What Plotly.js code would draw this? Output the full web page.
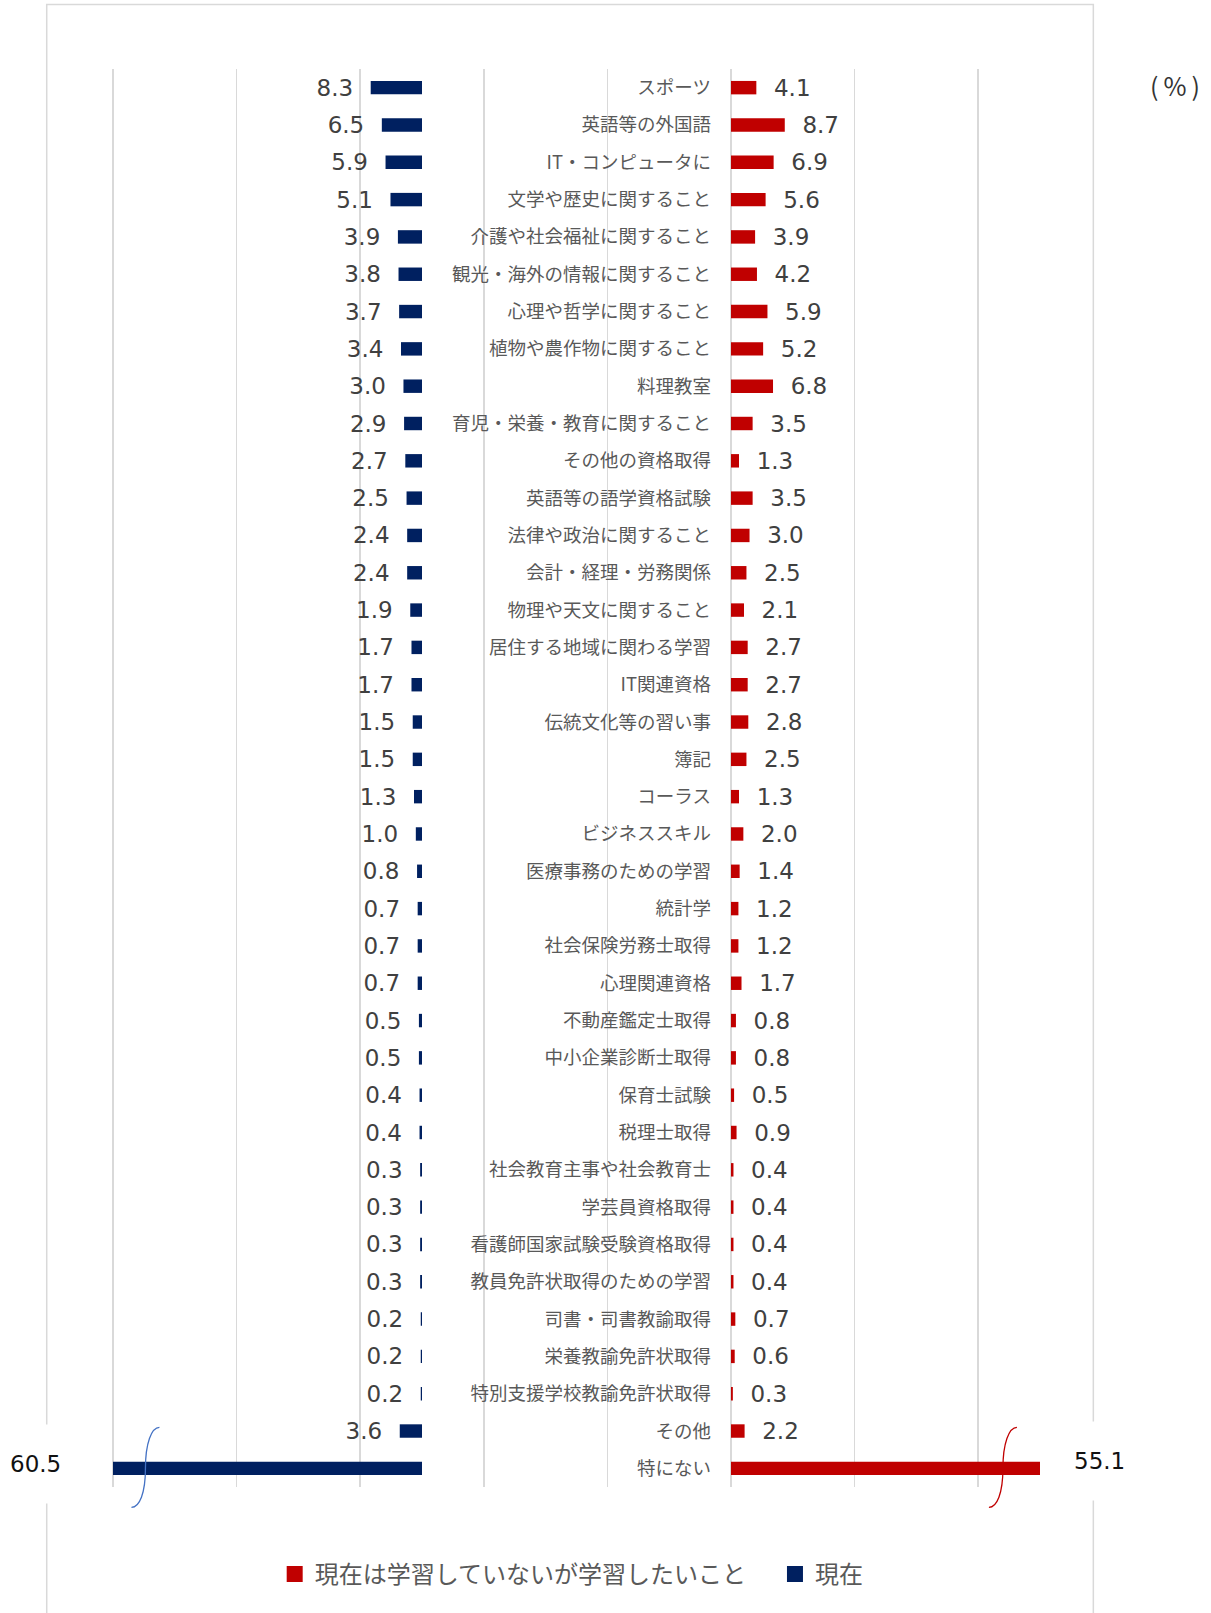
<!DOCTYPE html>
<html><head><meta charset="utf-8">
<script src="https://cdn.plot.ly/plotly-3.0.1.min.js"></script>
<style>html,body{margin:0;padding:0;background:#fff}</style>
</head><body><div id="chart" style="width:1211px;height:1613px"></div>
<script>
const categories = ['スポーツ','英語等の外国語','IT・コンピュータに','文学や歴史に関すること','介護や社会福祉に関すること','観光・海外の情報に関すること','心理や哲学に関すること','植物や農作物に関すること','料理教室','育児・栄養・教育に関すること','その他の資格取得','英語等の語学資格試験','法律や政治に関すること','会計・経理・労務関係','物理や天文に関すること','居住する地域に関わる学習','IT関連資格','伝統文化等の習い事','簿記','コーラス','ビジネススキル','医療事務のための学習','統計学','社会保険労務士取得','心理関連資格','不動産鑑定士取得','中小企業診断士取得','保育士試験','税理士取得','社会教育主事や社会教育士','学芸員資格取得','看護師国家試験受験資格取得','教員免許状取得のための学習','司書・司書教諭取得','栄養教諭免許状取得','特別支援学校教諭免許状取得','その他','特にない'];
const currentValues = [8.3,6.5,5.9,5.1,3.9,3.8,3.7,3.4,3.0,2.9,2.7,2.5,2.4,2.4,1.9,1.7,1.7,1.5,1.5,1.3,1.0,0.8,0.7,0.7,0.7,0.5,0.5,0.4,0.4,0.3,0.3,0.3,0.3,0.2,0.2,0.2,3.6,60.5];
const wantValues = [4.1,8.7,6.9,5.6,3.9,4.2,5.9,5.2,6.8,3.5,1.3,3.5,3.0,2.5,2.1,2.7,2.7,2.8,2.5,1.3,2.0,1.4,1.2,1.2,1.7,0.8,0.8,0.5,0.9,0.4,0.4,0.4,0.4,0.7,0.6,0.3,2.2,55.1];
const seriesNames = ['現在は学習していないが学習したいこと','現在'];
const unitLabel = '(%)';

const NAVY = '#002060', RED = '#C00000';
const LEFT_ZERO = 50, RIGHT_ZERO = 100, CAP = 50;
const X_RANGE = [-0.3236, 150];
const Y_RANGE = [categories.length - 0.5, -0.5];
const NB = '\u00a0\u00a0';
const numFont = {family: 'DejaVu Sans, Verdana, sans-serif', size: 23, color: '#404040'};

const leftTrace = {
  type: 'bar', orientation: 'h', y: categories,
  x: currentValues.map(v => -Math.min(v, CAP)), base: LEFT_ZERO,
  marker: {color: NAVY}, width: 0.36, name: seriesNames[1], showlegend: false,
  text: currentValues.map(v => v > CAP ? '' : v.toFixed(1) + NB),
  textposition: 'outside', constraintext: 'none', cliponaxis: false,
  textfont: numFont, hoverinfo: 'skip'
};
const rightTrace = {
  type: 'bar', orientation: 'h', y: categories,
  x: wantValues.map(v => Math.min(v, CAP)), base: RIGHT_ZERO,
  marker: {color: RED}, width: 0.36, name: seriesNames[0], showlegend: false,
  text: wantValues.map(v => v > CAP ? '' : NB + v.toFixed(1)),
  textposition: 'outside', constraintext: 'none', cliponaxis: false,
  textfont: numFont, hoverinfo: 'skip'
};
const legendRed = {type: 'scatter', mode: 'markers', x: [null], y: [null], name: seriesNames[0] + '\u3000',
  marker: {symbol: 'square', size: 16, color: RED}, hoverinfo: 'skip'};
const legendNavy = {type: 'scatter', mode: 'markers', x: [null], y: [null], name: seriesNames[1],
  marker: {symbol: 'square', size: 16, color: NAVY}, hoverinfo: 'skip'};

const xPaper = u => (u - X_RANGE[0]) / (X_RANGE[1] - X_RANGE[0]);
const yPaper = i => (Y_RANGE[0] - i) / (Y_RANGE[0] - Y_RANGE[1]);

const annotations = [];
const shapes = [];
const bigFont = {family: 'DejaVu Sans, Verdana, sans-serif', size: 23, color: '#111111'};
const squiggle = 'M -14,-39 C -6,-39 0,-25 0,0 C 0,25 6,41 14,41';
currentValues.forEach((v, i) => {
  if (v > CAP) {
    annotations.push({x: LEFT_ZERO - CAP, y: i, xref: 'x', yref: 'y', text: v.toFixed(1), showarrow: false,
      xanchor: 'right', xshift: -25, yshift: 4, font: bigFont, bgcolor: '#ffffff', borderpad: 26});
    shapes.push({type: 'path', xref: 'paper', yref: 'paper', xsizemode: 'pixel', ysizemode: 'pixel',
      xanchor: xPaper(LEFT_ZERO - CAP + 5.25), yanchor: yPaper(i), path: squiggle,
      line: {color: '#4472C4', width: 1.3}, layer: 'above'});
  }
});
wantValues.forEach((v, i) => {
  if (v > CAP) {
    annotations.push({x: RIGHT_ZERO + CAP, y: i, xref: 'x', yref: 'y', text: v.toFixed(1), showarrow: false,
      xanchor: 'left', xshift: 7, yshift: 7, font: bigFont, bgcolor: '#ffffff', borderpad: 26});
    shapes.push({type: 'path', xref: 'paper', yref: 'paper', xsizemode: 'pixel', ysizemode: 'pixel',
      xanchor: xPaper(RIGHT_ZERO + CAP - 6), yanchor: yPaper(i), path: squiggle,
      line: {color: RED, width: 1.3}, layer: 'above'});
  }
});
annotations.push({x: 1.1456, y: 0.9884, xref: 'paper', yref: 'paper',
  text: unitLabel.split('').join('\u2009'), showarrow: false,
  xanchor: 'center', yanchor: 'middle', font: {family: 'Noto Sans CJK JP, sans-serif', size: 25, color: '#333333'}});
shapes.unshift({type: 'rect', xref: 'paper', yref: 'paper', x0: -0.0692, x1: 1.0574, y0: -0.097, y1: 1.0455,
  line: {color: '#D9D9D9', width: 1.5}, fillcolor: 'rgba(0,0,0,0)', layer: 'below'});

const layout = {
  width: 1211, height: 1613,
  margin: {l: 111, r: 171, t: 69, b: 126, pad: 0},
  paper_bgcolor: '#ffffff', plot_bgcolor: '#ffffff',
  barmode: 'overlay',
  showlegend: true,
  legend: {orientation: 'h', x: 0.1762, xanchor: 'left', y: -0.0617, yanchor: 'middle',
    font: {family: 'Noto Sans CJK JP, sans-serif', size: 24, color: '#595959'},
    traceorder: 'normal', itemclick: false, itemdoubleclick: false},
  xaxis: {range: X_RANGE, tick0: 0, dtick: 20, showgrid: true, gridcolor: '#D9D9D9', gridwidth: 1.5,
    zeroline: false, showline: false, showticklabels: false, ticks: '', fixedrange: true, anchor: 'y'},
  yaxis: {type: 'category', categoryorder: 'array', categoryarray: categories, range: Y_RANGE,
    anchor: 'free', position: xPaper(RIGHT_ZERO), side: 'left', showgrid: false, zeroline: false, showline: false,
    ticks: '', ticklabelstandoff: 20,
    tickfont: {family: 'Noto Sans CJK JP, sans-serif', size: 18.5, color: '#595959'}, fixedrange: true},
  annotations: annotations,
  shapes: shapes,
  font: {family: 'Noto Sans CJK JP, sans-serif'}
};
Plotly.newPlot('chart', [legendRed, legendNavy, leftTrace, rightTrace], layout, {displayModeBar: false, staticPlot: true});
</script></body></html>
